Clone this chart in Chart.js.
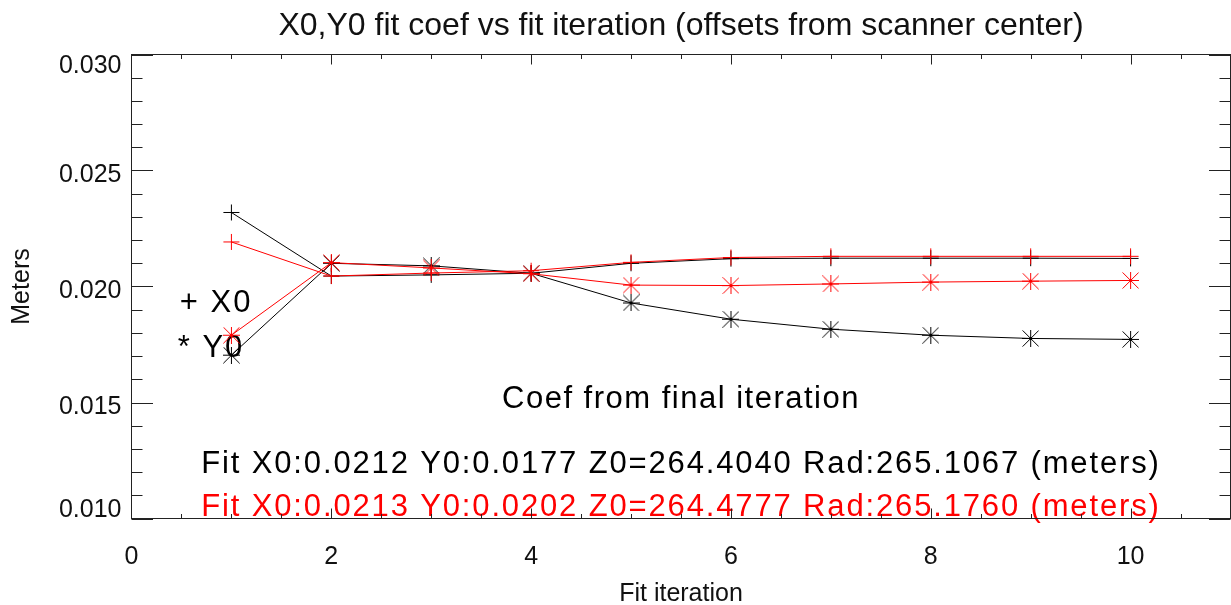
<!DOCTYPE html>
<html><head><meta charset="utf-8">
<script src="https://cdn.jsdelivr.net/npm/chart.js@4/dist/chart.umd.min.js"></script>
<style>html,body{margin:0;padding:0;background:#fff;overflow:hidden;width:1231px;height:605px}canvas{display:block}</style>
</head><body>
<canvas id="c" width="1240" height="605"></canvas>
<script>
// ---- data ----
const iterations = [1, 2, 3, 4, 5, 6, 7, 8, 9, 10];
const x0Black = [0.02319, 0.02045, 0.02050, 0.02057, 0.02100, 0.02120, 0.02122, 0.02122, 0.02122, 0.02121];
const y0Black = [0.01704, 0.02100, 0.02089, 0.02057, 0.01929, 0.01859, 0.01816, 0.01790, 0.01776, 0.01772];
const x0Red   = [0.02192, 0.02045, 0.02058, 0.02068, 0.02104, 0.02125, 0.02130, 0.02130, 0.02130, 0.02130];
const y0Red   = [0.01790, 0.02103, 0.02080, 0.02055, 0.02006, 0.02004, 0.02011, 0.02019, 0.02023, 0.02026];
const xTickValues = [0, 2, 4, 6, 8, 10];
const xTickLabels = ['0', '2', '4', '6', '8', '10'];
const yTickValues = [0.010, 0.015, 0.020, 0.025, 0.030];
const yTickLabels = ['0.010', '0.015', '0.020', '0.025', '0.030'];
const chartTitle = 'X0,Y0 fit coef vs fit iteration (offsets from scanner center)';
const xAxisTitle = 'Fit iteration';
const yAxisTitle = 'Meters';
const legendTexts = ['+ X0', '* Y0'];
const coefHeading = 'Coef from final iteration';
const fitTextBlack = 'Fit X0:0.0212 Y0:0.0177 Z0=264.4040 Rad:265.1067 (meters)';
const fitTextRed = 'Fit X0:0.0213 Y0:0.0202 Z0=264.4777 Rad:265.1760 (meters)';

// ---- styling / layout ----
const FONT = '"Liberation Sans", Arial, Helvetica, sans-serif';
const BLACK = '#000000', RED = '#ff0000', AXIS = '#222222', TEXT = '#111111';
const X_MIN = 0, X_MAX = 11, Y_MIN = 0.010, Y_MAX = 0.030;

function asteriskMarker(color) {
  const S = 17, c = document.createElement('canvas');
  c.width = S; c.height = S;
  const g = c.getContext('2d');
  g.strokeStyle = color; g.lineWidth = 1;
  g.beginPath();
  g.moveTo(0, S / 2); g.lineTo(S, S / 2);
  g.moveTo(S / 2, 0); g.lineTo(S / 2, S);
  g.moveTo(0.5, 0.5); g.lineTo(S - 0.5, S - 0.5);
  g.moveTo(S - 0.5, 0.5); g.lineTo(0.5, S - 0.5);
  g.stroke();
  return c;
}

const framePlugin = {
  id: 'frame',
  beforeDatasetsDraw(chart) {
    const ctx = chart.ctx, xs = chart.scales.x, ys = chart.scales.y;
    ctx.save();
    ctx.textBaseline = 'middle';
    ctx.font = '31px ' + FONT;
    try { ctx.letterSpacing = '2px'; } catch (e) {}
    ctx.textAlign = 'left';
    ctx.fillStyle = BLACK;
    ctx.fillText(legendTexts[0], xs.getPixelForValue(0.483), ys.getPixelForValue(0.01929));
    ctx.fillText(legendTexts[1], xs.getPixelForValue(0.463), ys.getPixelForValue(0.01735));
    ctx.textAlign = 'center';
    const cx = xs.getPixelForValue((X_MIN + X_MAX) / 2);
    try { ctx.letterSpacing = '1.5px'; } catch (e) {}
    ctx.fillText(coefHeading, cx, ys.getPixelForValue(0.01513));
    try { ctx.letterSpacing = '1.85px'; } catch (e) {}
    ctx.fillText(fitTextBlack, cx, ys.getPixelForValue(0.012328));
    ctx.fillStyle = RED;
    ctx.fillText(fitTextRed, cx, ys.getPixelForValue(0.010474));
    ctx.restore();
  },
  afterDatasetsDraw(chart) {
    const ctx = chart.ctx, xs = chart.scales.x, ys = chart.scales.y;
    const a = chart.chartArea;
    ctx.save();
    ctx.strokeStyle = AXIS;
    ctx.lineWidth = 1;
    ctx.strokeRect(a.left, a.top, a.right - a.left, a.bottom - a.top);
    ctx.beginPath();
    for (let i = 0; i <= 22; i++) {
      const v = X_MIN + i * 0.5;
      if (v <= X_MIN || v >= X_MAX) continue;
      const px = Math.round(xs.getPixelForValue(v)) + 0.5;
      const len = (i % 4 === 0) ? 10 : 4.5;
      ctx.moveTo(px, a.bottom); ctx.lineTo(px, a.bottom - len);
      ctx.moveTo(px, a.top); ctx.lineTo(px, a.top + len);
    }
    for (let i = 0; i <= 20; i++) {
      const v = Y_MIN + i * 0.001;
      const py = Math.round(ys.getPixelForValue(v)) + 0.5;
      const len = (i % 5 === 0) ? 21.5 : 11;
      ctx.moveTo(a.left, py); ctx.lineTo(a.left + len, py);
      ctx.moveTo(a.right, py); ctx.lineTo(a.right - len, py);
    }
    ctx.stroke();
    ctx.font = '25px ' + FONT;
    ctx.fillStyle = TEXT;
    ctx.textAlign = 'right';
    ctx.textBaseline = 'middle';
    yTickValues.forEach((v, i) => {
      let py = ys.getPixelForValue(v) + 5;
      py = Math.min(Math.max(py, a.top + 11.5), a.bottom - 8);
      ctx.fillText(yTickLabels[i], a.left - 10, py);
    });
    ctx.restore();
  }
};

const series = (color, style, radius) => ({
  borderColor: color, backgroundColor: color, pointBorderColor: color,
  pointStyle: style, pointRadius: radius, pointBorderWidth: 1, borderWidth: 1,
  tension: 0, fill: false
});
const starBlack = asteriskMarker(BLACK), starRed = asteriskMarker(RED);

new Chart(document.getElementById('c'), {
  type: 'line',
  data: {
    labels: iterations,
    datasets: [
      Object.assign({ label: 'Y0 red', data: iterations.map((x, i) => ({ x, y: y0Red[i] })) }, series(RED, starRed, 8.5)),
      Object.assign({ label: 'X0 red', data: iterations.map((x, i) => ({ x, y: x0Red[i] })) }, series(RED, 'cross', 8)),
      Object.assign({ label: 'Y0 black', data: iterations.map((x, i) => ({ x, y: y0Black[i] })) }, series(BLACK, starBlack, 8.5)),
      Object.assign({ label: 'X0 black', data: iterations.map((x, i) => ({ x, y: x0Black[i] })) }, series(BLACK, 'cross', 8))
    ]
  },
  options: {
    responsive: false,
    animation: false,
    devicePixelRatio: 1,
    events: [],
    layout: { padding: { left: 0, right: 4.5, top: 0, bottom: 0 } },
    plugins: {
      legend: { display: false },
      tooltip: { enabled: false },
      title: {
        display: true, text: chartTitle, fullSize: false, color: TEXT,
        font: { family: FONT, size: 32, weight: 'normal', lineHeight: 1 },
        padding: { top: 10, bottom: 12.5 }
      }
    },
    scales: {
      x: {
        type: 'linear', min: X_MIN, max: X_MAX,
        grid: { display: false }, border: { display: false },
        afterBuildTicks: (s) => { s.ticks = xTickValues.map(v => ({ value: v })); },
        afterFit: (s) => { s.height = 86.5; },
        ticks: {
          color: TEXT, padding: 15.5, maxRotation: 0, autoSkip: false,
          font: { family: FONT, size: 25, lineHeight: 1.2 },
          callback: (v) => { const i = xTickValues.indexOf(v); return i >= 0 ? xTickLabels[i] : ''; }
        },
        title: { display: true, text: xAxisTitle, color: TEXT, font: { family: FONT, size: 25, lineHeight: 1 }, padding: { top: 0, bottom: -1.5 } }
      },
      y: {
        type: 'linear', min: Y_MIN, max: Y_MAX,
        grid: { display: false }, border: { display: false },
        afterFit: (s) => { s.width = 131.5; },
        ticks: { display: false },
        title: { display: true, text: yAxisTitle, color: TEXT, font: { family: FONT, size: 25, lineHeight: 1 }, padding: { top: 9.5, bottom: 0 } }
      }
    }
  },
  plugins: [framePlugin]
});
</script>
</body></html>
